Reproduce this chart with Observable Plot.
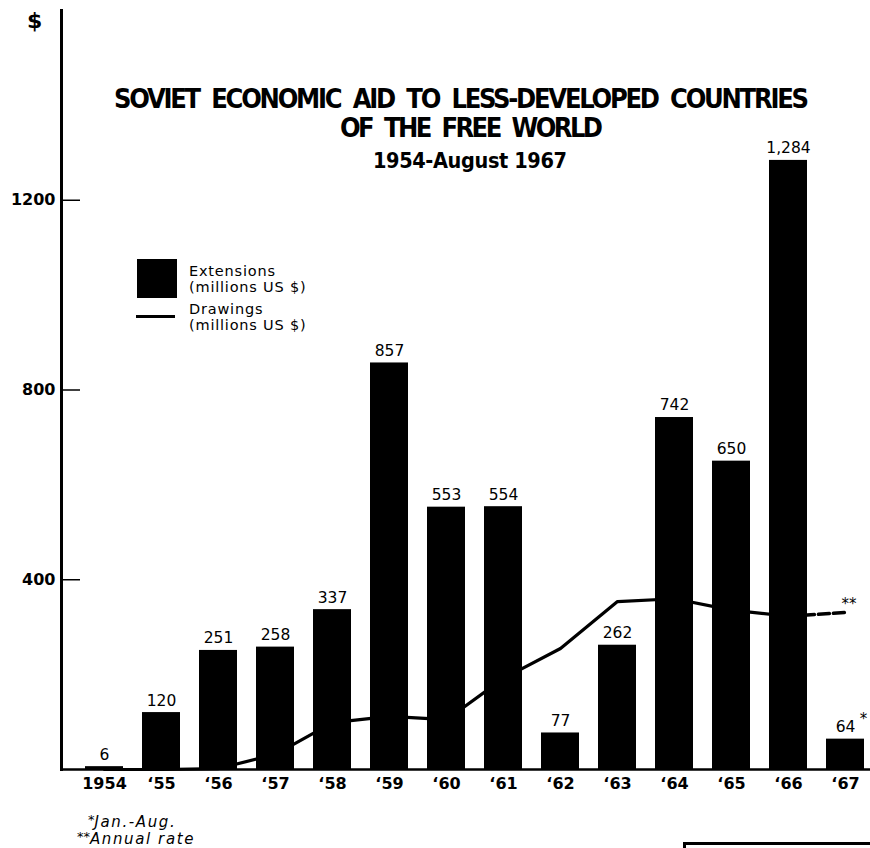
<!DOCTYPE html>
<html>
<head>
<meta charset="utf-8">
<script src="https://cdn.jsdelivr.net/npm/d3@7"></script>
<script src="https://cdn.jsdelivr.net/npm/@observablehq/plot@0.6"></script>
<style>
  html, body { margin: 0; padding: 0; background: #fff; }
  #wrap { position: relative; width: 870px; height: 848px; overflow: hidden; background: #fff; }
  #chart svg { display: block; }
  .ov { position: absolute; color: #000; font-family: "DejaVu Sans", sans-serif; white-space: pre; line-height: 1; }
  .leg { font-size: 14.5px; letter-spacing: 0.8px; }
  .foot { font-size: 15px; font-style: italic; letter-spacing: 1.6px; }
  .sup { font-size: 13px; font-style: normal; vertical-align: 3px; letter-spacing: 0; }
</style>
</head>
<body>
<div id="wrap">
  <div id="chart"></div>
  <svg id="titles" width="870" height="200" style="position:absolute;left:0;top:0;pointer-events:none">
    <text x="114" y="108" textLength="695" lengthAdjust="spacing" font-family="'Liberation Sans Narrow', 'DejaVu Sans Condensed', sans-serif" font-weight="bold" font-size="27" style="white-space:pre">SOVIET  ECONOMIC  AID  TO  LESS-DEVELOPED  COUNTRIES</text>
    <text x="340" y="137" textLength="263" lengthAdjust="spacing" font-family="'Liberation Sans Narrow', 'DejaVu Sans Condensed', sans-serif" font-weight="bold" font-size="27" style="white-space:pre">OF  THE  FREE  WORLD</text>
    <text x="373" y="168" textLength="194" lengthAdjust="spacing" font-family="'Liberation Sans Narrow', 'DejaVu Sans Condensed', sans-serif" font-weight="bold" font-size="21.5">1954-August 1967</text>
  </svg>
  <div class="ov" style="left:27px;top:10px;font-size:22px;font-weight:bold;">$</div>
  <div class="ov" style="left:137px;top:259px;width:40px;height:39px;background:#000;"></div>
  <div class="ov leg" style="left:189px;top:264px;">Extensions</div>
  <div class="ov leg" style="left:189px;top:280px;">(millions US $)</div>
  <div class="ov" style="left:136px;top:315px;width:39px;height:3px;background:#000;"></div>
  <div class="ov leg" style="left:189px;top:302px;">Drawings</div>
  <div class="ov leg" style="left:189px;top:318px;">(millions US $)</div>
  <div class="ov foot" style="left:88px;top:813px;"><span class="sup">*</span>Jan.-Aug.</div>
  <div class="ov foot" style="left:77px;top:830px;"><span class="sup">**</span>Annual rate</div>
  <div class="ov" style="left:683px;top:842px;width:200px;height:30px;border:3px solid #000;box-sizing:border-box;"></div>
</div>
<script>
// ---- data ----
const years = ["1954","1955","1956","1957","1958","1959","1960","1961","1962","1963","1964","1965","1966","1967"];
const yearLabels = ["1954","\u201855","\u201856","\u201857","\u201858","\u201859","\u201860","\u201861","\u201862","\u201863","\u201864","\u201865","\u201866","\u201867"];
const extensions = [6, 120, 251, 258, 337, 857, 553, 554, 77, 262, 742, 650, 1284, 64];
const extensionLabels = ["6","120","251","258","337","857","553","554","77","262","742","650","1,284","64"];
const drawings = [0, 0, 2, 32, 99, 112, 105, 192, 255, 354, 360, 336, 323, 331];
const yTicks = [400, 800, 1200];

const rows = years.map((y, i) => ({year: y, ext: extensions[i], label: extensionLabels[i], draw: drawings[i]}));
const solid = rows.slice(0, 13);
const dashed = rows.slice(12);
const last = [rows[rows.length - 1]];

const W = 870, H = 848, ML = 61, MB = 79, MT = 10;
const font = "DejaVu Sans, sans-serif";

const chart = Plot.plot({
  width: W,
  height: H,
  marginLeft: ML,
  marginRight: 0,
  marginTop: MT,
  marginBottom: MB,
  style: {background: "transparent", color: "#000", fontFamily: font, overflow: "visible"},
  x: {type: "band", domain: years, range: [70.7, 877.8], paddingInner: 0.33, paddingOuter: 0.165, align: 0.5},
  y: {domain: [0, 1600]},
  marks: [
    Plot.lineY(solid, {x: "year", y: "draw", stroke: "#000", strokeWidth: 3.2, strokeLinejoin: "round", curve: "linear"}),
    Plot.lineY(dashed, {x: "year", y: "draw", stroke: "#000", strokeWidth: 3.5, strokeDasharray: "11,4"}),
    Plot.barY(rows, {x: "year", y: "ext", fill: "#000"}),
    Plot.text(rows, {x: "year", y: "ext", text: "label", dy: -12, fontSize: 15.5, fill: "#000"}),
    Plot.text(last, {x: "year", y: "ext", text: () => "*", dx: 18, dy: -20, fontSize: 15, fill: "#000"}),
    Plot.text(last, {x: "year", y: "draw", text: () => "**", dx: -4, dy: -8, fontSize: 15, textAnchor: "start", fill: "#000"}),
    Plot.ruleY(yTicks, {stroke: "#000", strokeWidth: 1.5, insetRight: W - ML - 19}),
    Plot.axisY(yTicks, {tickSize: 0, tickPadding: 6, fontSize: 16, fontWeight: "bold", label: null, tickFormat: d => String(d)}),
    Plot.axisX({tickSize: 0, tickPadding: 8, fontSize: 16, fontWeight: "bold", label: null, tickFormat: d => yearLabels[years.indexOf(d)]}),
    Plot.frame({anchor: "left", stroke: "#000", strokeWidth: 3}),
    Plot.frame({anchor: "bottom", stroke: "#000", strokeWidth: 2.5})
  ]
});
document.getElementById("chart").appendChild(chart);
</script>
</body>
</html>
